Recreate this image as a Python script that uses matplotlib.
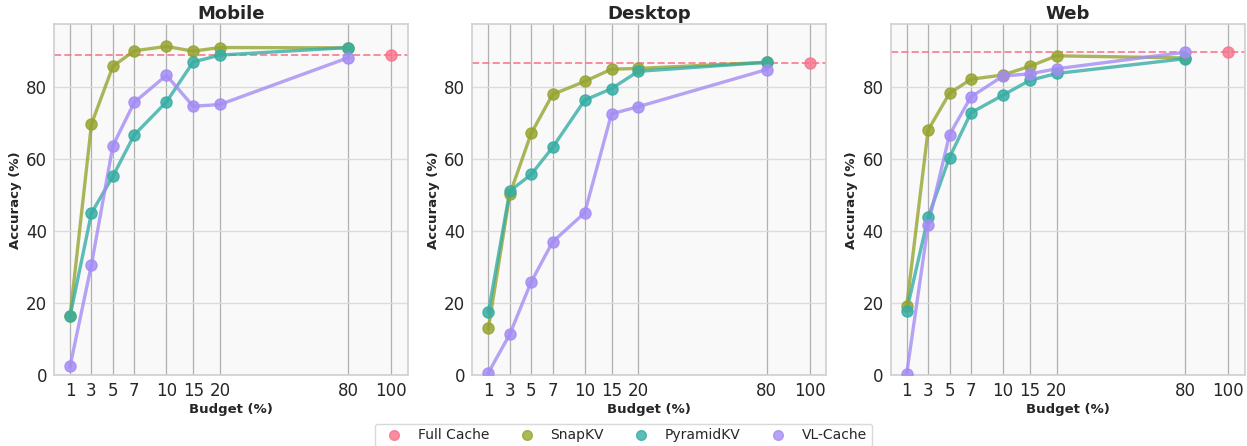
#!/usr/bin/env python3

import numpy as np
import matplotlib
matplotlib.use("Agg")
import matplotlib.pyplot as plt
import seaborn as sns

# --- Data ---
budgets = [1, 3, 5, 7, 10, 15, 20, 80]
tick_budgets = [1, 3, 5, 7, 10, 15, 20, 80, 100]
panels = ["Mobile", "Desktop", "Web"]
methods = ["Full Cache", "SnapKV", "PyramidKV", "VL-Cache"]

full_cache = [88.9, 86.6, 89.6]

snapkv = [
    [16.4, 69.7, 85.7, 90.0, 91.2, 89.9, 90.9, 90.8],
    [13.0, 50.2, 67.1, 77.9, 81.5, 84.9, 85.1, 86.8],
    [19.2, 68.0, 78.2, 82.1, 83.3, 85.7, 88.6, 88.0],
]
pyramidkv = [
    [16.4, 45.0, 55.2, 66.7, 75.8, 86.9, 88.8, 90.9],
    [17.5, 51.1, 55.7, 63.2, 76.3, 79.5, 84.3, 86.8],
    [17.9, 43.8, 60.4, 72.8, 77.7, 81.8, 83.7, 87.8],
]
vlcache = [
    [2.5, 30.7, 63.7, 75.7, 83.2, 74.6, 75.1, 88.1],
    [0.7, 11.4, 25.9, 37.0, 45.1, 72.5, 74.5, 84.8],
    [0.4, 41.7, 66.7, 77.2, 83.0, 83.6, 85.0, 89.6],
]


# piecewise-linear budget axis: 10-20 squeezed 2x, 20-100 squeezed 5x
def fwd(x):
    x = np.asarray(x, dtype=float)
    return np.where(x <= 10, x, np.where(x <= 20, 10 + (x - 10) / 2, 15 + (x - 20) / 5))


def inv(y):
    y = np.asarray(y, dtype=float)
    return np.where(y <= 10, y, np.where(y <= 15, 10 + (y - 10) * 2, 20 + (y - 15) * 5))


colors = sns.color_palette("husl", 4)
text_color = "#262626"

plt.rcParams["font.family"] = ["DejaVu Sans"]
plt.rcParams["text.color"] = text_color
plt.rcParams["axes.labelcolor"] = text_color
plt.rcParams["xtick.color"] = text_color
plt.rcParams["ytick.color"] = text_color

fig, axes = plt.subplots(1, 3, figsize=(12.47, 4.46), dpi=100)
fig.subplots_adjust(left=0.0433, right=0.998, top=0.946, bottom=0.1585, wspace=0.182)

for i, ax in enumerate(axes):
    ax.set_facecolor("#f9f9f9")
    ax.set_xscale("function", functions=(fwd, inv))
    ax.set_xlim(-0.5, 107.75)
    ax.set_ylim(0, 97.4)

    ax.grid(True, axis="y", color="#dcdcdc", linewidth=1.0)
    for b in tick_budgets:
        ax.axvline(b, color="#b0b0b0", linewidth=0.9, zorder=0.5)
    ax.set_axisbelow(True)

    ax.axhline(full_cache[i], color=colors[0], linestyle="--", linewidth=1.4, alpha=0.8, zorder=1)
    ax.plot([100], [full_cache[i]], "o", color=colors[0], markersize=8, alpha=0.8, zorder=3)

    for series, c in zip([snapkv, pyramidkv, vlcache], colors[1:]):
        ax.plot(budgets, series[i], "-", color=c, linewidth=2.4, alpha=0.8, zorder=2)
        ax.plot(budgets, series[i], "o", color=c, markersize=8, alpha=0.85, zorder=3)

    ax.set_xticks(tick_budgets)
    ax.set_xticklabels([str(b) for b in tick_budgets])
    ax.xaxis.set_minor_locator(matplotlib.ticker.NullLocator())
    ax.set_yticks([0, 20, 40, 60, 80])
    ax.tick_params(axis="both", length=0, labelsize=12, pad=5)

    ax.set_title(panels[i], fontsize=13, fontweight="bold", pad=4)
    ax.set_xlabel("Budget (%)", fontsize=9.5, fontweight="bold", labelpad=2)
    ax.set_ylabel("Accuracy (%)", fontsize=9.5, fontweight="bold", labelpad=3)

    for s in ax.spines.values():
        s.set_color("#d0d0d0")
        s.set_linewidth(1.2)

handles = [
    plt.Line2D([], [], marker="o", linestyle="", color=c, markersize=7, alpha=0.8)
    for c in colors
]
fig.legend(handles, methods, loc="upper center", bbox_to_anchor=(0.5, 0.066), ncol=4,
           fontsize=10, frameon=True, edgecolor="#d0d0d0", fancybox=True,
           columnspacing=1.7, handletextpad=0.7, borderpad=0.35)

fig.savefig("out.png", dpi=100)
